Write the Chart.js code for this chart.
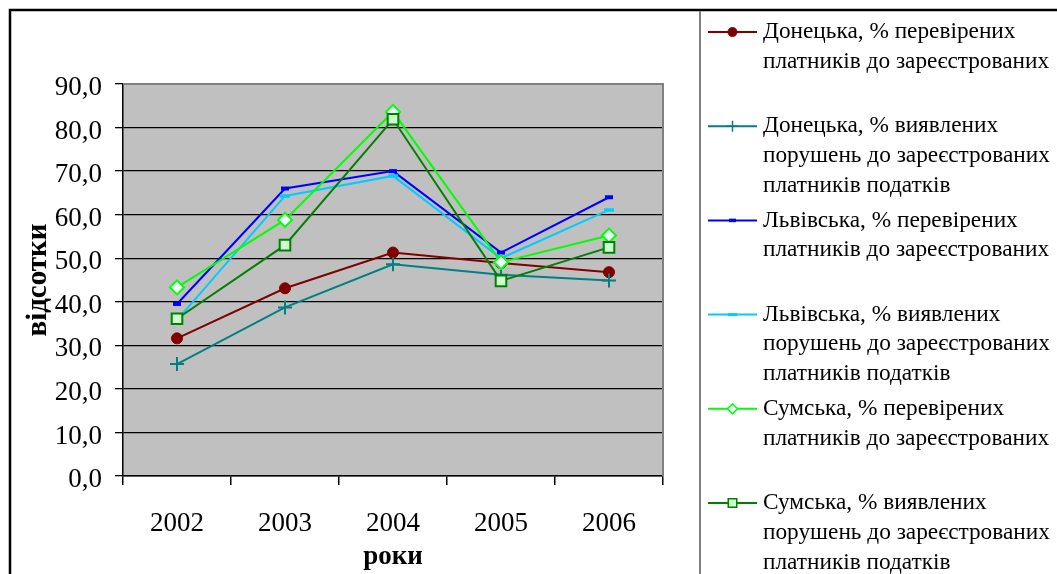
<!DOCTYPE html>
<html lang="uk">
<head>
<meta charset="utf-8">
<title>Перевірені платники та виявлені порушення, 2002–2006</title>
<script src="https://cdn.jsdelivr.net/npm/chart.js@4/dist/chart.umd.min.js"></script>
<style>
  html, body { margin: 0; padding: 0; background: #fff; }
  #wrap { width: 1057px; height: 574px; }
</style>
</head>
<body>
<div id="wrap"><canvas id="chart" width="1057" height="574"></canvas></div>
<script>
// Роки
const years = ['2002', '2003', '2004', '2005', '2006'];

// Значення, %
const donetskChecked    = [31.6, 43.1, 51.3, 48.9, 46.8];
const donetskViolations = [25.7, 38.7, 48.6, 46.2, 44.9];
const lvivChecked       = [39.5, 66.0, 70.0, 51.3, 64.0];
const lvivViolations    = [35.8, 64.3, 68.9, 50.0, 61.1];
const sumyChecked       = [43.3, 58.8, 83.6, 49.1, 55.2];
const sumyViolations    = [36.1, 53.0, 81.9, 44.8, 52.5];

// Підписи легенди (по рядках)
const labelDonetskChecked    = ['Донецька, % перевірених', 'платників до зареєстрованих'];
const labelDonetskViolations = ['Донецька, % виявлених', 'порушень до зареєстрованих', 'платників податків'];
const labelLvivChecked       = ['Львівська, % перевірених', 'платників до зареєстрованих'];
const labelLvivViolations    = ['Львівська, % виявлених', 'порушень до зареєстрованих', 'платників податків'];
const labelSumyChecked       = ['Сумська, % перевірених', 'платників до зареєстрованих'];
const labelSumyViolations    = ['Сумська, % виявлених', 'порушень до зареєстрованих', 'платників податків'];

// Вісь Y
const yMin = 0, yMax = 90, yStep = 10;
const xTitle = 'роки';
const yTitle = 'відсотки';

const SERIF = '"Liberation Serif", "Times New Roman", serif';

function series(lines, values, style) {
  return Object.assign({
    label: lines.join(' '),
    legendLines: lines,
    data: values,
    fill: false,
    tension: 0,
    borderWidth: 2
  }, style);
}

const datasets = [
  series(labelDonetskChecked, donetskChecked, {
    borderColor: '#800000', backgroundColor: '#800000',
    pointStyle: 'circle', pointRadius: 5.5, pointBorderWidth: 1,
    pointBackgroundColor: '#800000', pointBorderColor: '#800000',
    legendRadius: 4.5
  }),
  series(labelDonetskViolations, donetskViolations, {
    borderColor: '#008080', backgroundColor: '#008080',
    pointStyle: 'cross', pointRadius: 7, pointBorderWidth: 2,
    pointBorderColor: '#008080',
    legendRadius: 5.5
  }),
  series(labelLvivChecked, lvivChecked, {
    borderColor: '#0000FF', backgroundColor: '#0000FF',
    pointStyle: 'line', pointRadius: 4, pointBorderWidth: 4,
    pointBorderColor: '#0000FF',
    legendRadius: 3.5
  }),
  series(labelLvivViolations, lvivViolations, {
    borderColor: '#00CCFF', backgroundColor: '#00CCFF',
    pointStyle: 'line', pointRadius: 5, pointBorderWidth: 3.5,
    pointBorderColor: '#00CCFF',
    legendRadius: 4.5
  }),
  series(labelSumyChecked, sumyChecked, {
    borderColor: '#00FF00', backgroundColor: '#EFFFFF',
    pointStyle: 'rectRot', pointRadius: 7, pointBorderWidth: 2,
    pointBackgroundColor: '#EFFFFF', pointBorderColor: '#00FF00',
    legendRadius: 5
  }),
  series(labelSumyViolations, sumyViolations, {
    borderColor: '#008000', backgroundColor: '#CCFFCC',
    pointStyle: 'rect', pointRadius: 7.5, pointBorderWidth: 2,
    pointBackgroundColor: '#CCFFCC', pointBorderColor: '#008000',
    legendRadius: 6
  })
];
// later series are painted over earlier ones
datasets.forEach((d, i) => { d.order = -i; });

// Frame, grey plot background and plot outline
const framePlugin = {
  id: 'frame',
  beforeDraw(chart) {
    const { ctx, chartArea: a, width, height } = chart;
    ctx.save();
    ctx.fillStyle = '#FFFFFF';
    ctx.fillRect(0, 0, width, height);
    ctx.fillStyle = '#C0C0C0';
    ctx.fillRect(a.left, a.top, a.right - a.left, a.bottom - a.top);
    // outer chart border
    ctx.strokeStyle = '#000000';
    ctx.lineWidth = 2.5;
    ctx.beginPath();
    ctx.moveTo(10, height + 2);
    ctx.lineTo(10, 10);
    ctx.lineTo(width + 2, 10);
    ctx.stroke();
    ctx.restore();
  },
  beforeDatasetsDraw(chart) {
    const { ctx, chartArea: a } = chart;
    ctx.save();
    ctx.strokeStyle = '#808080';
    ctx.lineWidth = 2;
    ctx.beginPath();
    ctx.moveTo(a.left, a.top);
    ctx.lineTo(a.right, a.top);
    ctx.lineTo(a.right, a.bottom);
    ctx.stroke();
    ctx.restore();
  }
};

// Legend box on the right with wrapped series names
const legendPlugin = {
  id: 'sideLegend',
  afterDraw(chart, args, opts) {
    const { ctx, height } = chart;
    ctx.save();
    ctx.strokeStyle = '#808080';
    ctx.lineWidth = 2;
    ctx.beginPath();
    ctx.moveTo(opts.boxLeft, 11);
    ctx.lineTo(opts.boxLeft, height + 2);
    ctx.stroke();

    chart.data.datasets.forEach((ds, i) => {
      const y = opts.firstY + i * opts.itemStep;
      ctx.strokeStyle = ds.borderColor;
      ctx.lineWidth = 2;
      ctx.beginPath();
      ctx.moveTo(opts.sampleLeft, y);
      ctx.lineTo(opts.sampleRight, y);
      ctx.stroke();
      const cx = (opts.sampleLeft + opts.sampleRight) / 2;
      ctx.fillStyle = ds.pointBackgroundColor || ds.borderColor;
      ctx.strokeStyle = ds.pointBorderColor || ds.borderColor;
      ctx.lineWidth = ds.pointStyle === 'line' ? ds.pointBorderWidth - 0.5 : Math.min(ds.pointBorderWidth, 1.5);
      Chart.helpers.drawPoint(ctx, {
        pointStyle: ds.pointStyle,
        radius: ds.legendRadius,
        rotation: 0,
        borderWidth: ctx.lineWidth
      }, cx, y);

      ctx.fillStyle = '#000000';
      ctx.font = opts.font;
      ctx.textAlign = 'left';
      ctx.textBaseline = 'middle';
      ds.legendLines.forEach((line, k) => {
        ctx.fillText(line, opts.textLeft, y + k * opts.lineStep);
      });
    });
    ctx.restore();
  }
};

const tickFont = { family: SERIF, size: 27 };
const xTitleFont = { family: SERIF, size: 27, weight: 'bold' };
const yTitleFont = { family: SERIF, size: 29, weight: 'bold' };

new Chart(document.getElementById('chart'), {
  type: 'line',
  data: { labels: years, datasets },
  options: {
    responsive: false,
    animation: false,
    events: [],
    layout: { padding: { left: 0, top: 84, right: 394, bottom: 0 } },
    plugins: {
      legend: { display: false },
      tooltip: { enabled: false },
      sideLegend: {
        boxLeft: 700,
        sampleLeft: 708,
        sampleRight: 757,
        textLeft: 763,
        firstY: 32,
        itemStep: 94.2,
        lineStep: 29.7,
        font: '23.3px ' + SERIF
      }
    },
    scales: {
      x: {
        type: 'category',
        offset: true,
        grid: {
          offset: true,
          drawOnChartArea: false,
          drawTicks: true,
          tickLength: 9,
          color: '#000000',
          lineWidth: 1.5
        },
        border: { display: true, color: '#000000', width: 1.5 },
        ticks: { color: '#000000', font: tickFont, padding: 23, maxRotation: 0 },
        title: {
          display: true, text: xTitle, color: '#000000', font: xTitleFont,
          padding: { top: 0, bottom: 1 }
        },
        afterFit(scale) { scale.height = 98; }
      },
      y: {
        min: yMin,
        max: yMax,
        grid: {
          color: '#000000',
          lineWidth: 1.3,
          drawTicks: true,
          tickLength: 8
        },
        border: { display: true, color: '#000000', width: 1.5 },
        ticks: {
          stepSize: yStep,
          color: '#000000',
          font: tickFont,
          padding: 13,
          labelOffset: 4,
          callback: v => v.toFixed(1).replace('.', ',')
        },
        title: {
          display: true, text: yTitle, color: '#000000', font: yTitleFont,
          padding: { top: 21, bottom: 0 }
        },
        afterFit(scale) { scale.width = 123; }
      }
    }
  },
  plugins: [framePlugin, legendPlugin]
});
</script>
</body>
</html>
